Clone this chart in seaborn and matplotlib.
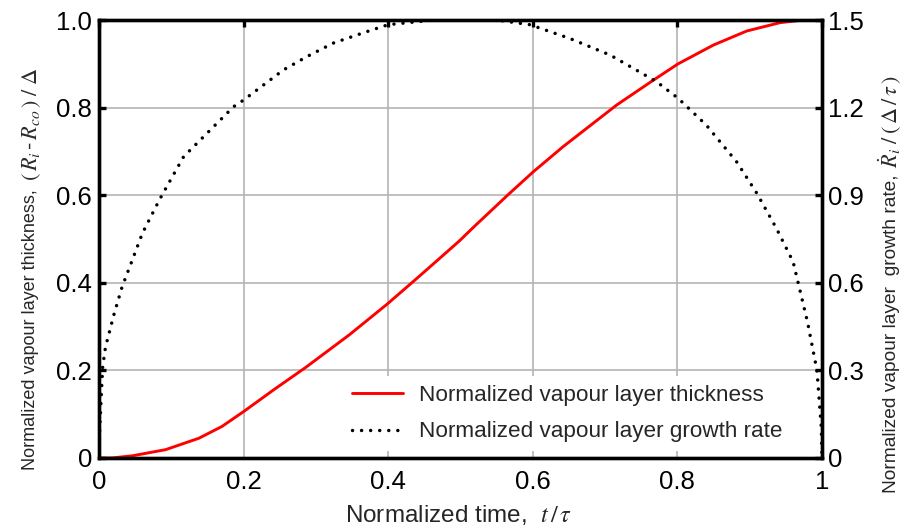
import matplotlib
matplotlib.use("Agg")
import matplotlib.pyplot as plt
import seaborn as sns
import pandas as pd

# Normalized vapour layer thickness (R_i - R_co)/Delta versus t/tau
t_thick = [0.0, 0.018, 0.046, 0.092, 0.138, 0.17, 0.2, 0.241, 0.286, 0.346, 0.399,
           0.443, 0.498, 0.518, 0.567, 0.601, 0.642, 0.716, 0.767,
           0.801, 0.850, 0.896, 0.942, 0.974, 1.0]
thickness = [0.0, 0.0, 0.005, 0.019, 0.045, 0.072, 0.106, 0.155, 0.207, 0.281, 0.352,
             0.415, 0.495, 0.527, 0.603, 0.654, 0.711, 0.806, 0.863,
             0.900, 0.943, 0.975, 0.994, 1.0, 1.0]

# Normalized growth rate dR_i/dt / (Delta/tau) versus t/tau
t_rate = [0.0, 0.001, 0.005, 0.009, 0.021, 0.032, 0.046, 0.060, 0.081, 0.087,
          0.117, 0.14, 0.186, 0.2, 0.255, 0.287, 0.324, 0.37, 0.4, 0.463, 0.5,
          0.55, 0.596, 0.651, 0.707, 0.771, 0.801, 0.840, 0.882, 0.910, 0.937,
          0.960, 0.967, 0.980, 0.993, 0.999, 1.0]
growth_rate = [0.0, 0.105, 0.312, 0.381, 0.495, 0.587, 0.678, 0.770, 0.872, 0.90,
               1.032, 1.089, 1.203, 1.226, 1.329, 1.374, 1.421, 1.460, 1.484, 1.5, 1.5,
               1.5, 1.484, 1.437, 1.38, 1.289, 1.232, 1.14, 1.014, 0.906, 0.786,
               0.672, 0.60, 0.465, 0.30, 0.105, 0.0]

x_ticks = [0, 0.2, 0.4, 0.6, 0.8, 1]
x_labels = ["0", "0.2", "0.4", "0.6", "0.8", "1"]
left_ticks = [0, 0.2, 0.4, 0.6, 0.8, 1.0]
left_labels = ["0", "0.2", "0.4", "0.6", "0.8", "1.0"]
right_ticks = [0, 0.3, 0.6, 0.9, 1.2, 1.5]
right_labels = ["0", "0.3", "0.6", "0.9", "1.2", "1.5"]

sns.set_theme(style="white")
plt.rcParams["font.family"] = ["Liberation Sans", "DejaVu Sans"]
plt.rcParams["mathtext.fontset"] = "stix"

df_thick = pd.DataFrame({"t": t_thick, "v": thickness})
df_rate = pd.DataFrame({"t": t_rate, "v": growth_rate})

fig = plt.figure(figsize=(9.07, 5.31), dpi=100)
ax = fig.add_axes([0.1092, 0.1375, 0.7971, 0.8248])
ax2 = ax.twinx()

sns.lineplot(data=df_thick, x="t", y="v", ax=ax, color="#ff0000", lw=2.1,
             label="Normalized vapour layer thickness", legend=False)
sns.lineplot(data=df_rate, x="t", y="v", ax=ax2, color="black", lw=2.5,
             linestyle=(0, (0.01, 2.6)), dash_capstyle="round",
             label="Normalized vapour layer growth rate", legend=False)

ax.set_xlim(0, 1)
ax.set_ylim(0, 1)
ax2.set_ylim(0, 1.5)

ax.set_xticks(x_ticks, x_labels)
ax.set_yticks(left_ticks, left_labels)
ax2.set_yticks(right_ticks, right_labels)

ax.grid(True, color="#b4b4b4", lw=1.2)
ax.set_axisbelow(True)
ax2.grid(False)

for a in (ax, ax2):
    for s in a.spines.values():
        s.set_linewidth(2.4)
        s.set_color("black")
ax.tick_params(axis="both", direction="in", length=5, width=2.4,
               labelsize=18.5, top=True, colors="black")
ax.tick_params(axis="x", pad=9)
ax.tick_params(axis="y", pad=5)
ax2.tick_params(axis="y", direction="in", length=5, width=2.4,
                labelsize=18.5, pad=4, colors="black")

ax.set_xlabel(r"Normalized time,  $t\,/\,\tau$", fontsize=17.5)
ax.xaxis.set_label_coords(0.497, -0.131)
ax.xaxis.label.set_va("center")

# y-axis titles: words as the axis label, the symbol part set beside it
ax.set_ylabel("Normalized vapour layer thickness,", fontsize=13.0)
ax.yaxis.set_label_coords(-0.088, -0.027)
ax.yaxis.label.set(va="baseline", ha="left", rotation_mode="anchor")
ax.text(-0.085, 0.632, r"$(\,R_i\,$-$\,R_{co}\,)\;/\;\mathit{\Delta}$",
        transform=ax.transAxes, rotation=90, rotation_mode="anchor",
        ha="left", va="baseline", fontsize=16, color="#2a2a2a")

ax2.set_ylabel("Normalized vapour layer  growth rate,", fontsize=13.8)
ax2.yaxis.set_label_coords(1.1025, -0.080)
ax2.yaxis.label.set(va="baseline", ha="left", rotation_mode="anchor")
ax2.text(1.1055, 0.662, r"$\dot{R}_i\;/\;(\,\mathit{\Delta}\,/\,\tau\,)$",
         transform=ax2.transAxes, rotation=90, rotation_mode="anchor",
         ha="left", va="baseline", fontsize=16, color="#2a2a2a")

h1, l1 = ax.get_legend_handles_labels()
h2, l2 = ax2.get_legend_handles_labels()
leg = ax2.legend(h1 + h2, l1 + l2, loc="lower left",
                 bbox_to_anchor=(0.3375, 0.015), borderaxespad=0,
                 fontsize=16.2, frameon=True,
                 facecolor="white", edgecolor="none", framealpha=1,
                 handlelength=2.27, handletextpad=0.7, labelspacing=0.67,
                 borderpad=0.4)
leg.get_frame().set_linewidth(0)

fig.savefig("out.png", dpi=100)
